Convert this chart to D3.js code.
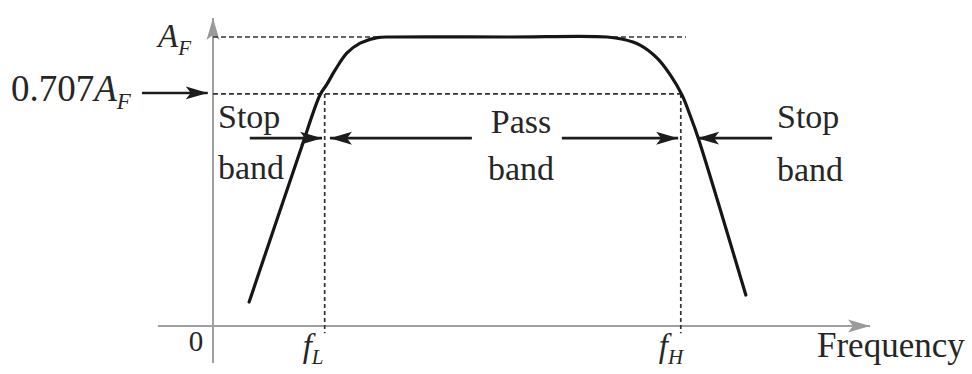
<!DOCTYPE html>
<html lang="en">
<head>
    <title>Band-pass response</title>
    <script src='https://d3js.org/d3.v7.min.js'></script>
    <style>
        body { margin: 0; background: #fff; }
        text { font-family: "Liberation Serif", "Times New Roman", serif; fill: #262626; }
    </style>
</head>
<body>
    <script>
        // Set Dimensions
        const xSize = 972;  const ySize = 374;

        // Curve (relative frequency, gain / A_F)
        const freq = [5.5, 13.2, 16.3, 17.3, 18.6, 20.4, 22.4, 25.0, 27.5, 45.0, 60.0, 62.4, 65.0, 67.6, 69.6, 71.4, 72.6, 73.8, 81.1];
        const gain = [0.083, 0.600, 0.800, 0.835, 0.886, 0.945, 0.979, 0.998, 1.0, 1.0, 1.0, 0.992, 0.972, 0.927, 0.869, 0.799, 0.730, 0.654, 0.107];

        // Reference levels: A_F and the (schematically drawn) 0.707 A_F level
        const levelValues = [1.0, 0.803];
        const levelEnds   = [72.0, 71.7];
        // Cut-off frequencies fL and fH
        const cutoffs = [17.0, 71.2];
        const cutoffNames = ["L", "H"];
        // Band arrows (from, to) in frequency units, all at one gain level
        const arrowFrom = [5.6, 39.4, 53.1, 85.1];
        const arrowTo   = [16.6, 17.8, 70.8, 73.7];
        const arrowGain = 0.65;

        const data = freq.map((f, i) => ({ x: f, y: gain[i] }));

        const svg = d3.select("body")
                    .append("svg")
                    .attr("width", xSize)
                    .attr("height", ySize);

        // scales: origin at (213, 326)
        const x = d3.scaleLinear().domain([0, 100]).range([213, 870]);
        const y = d3.scaleLinear().domain([0, 1]).range([326, 37]);

        const defs = svg.append("defs");
        function marker(id, color) {
            defs.append("marker")
                .attr("id", id)
                .attr("markerUnits", "userSpaceOnUse")
                .attr("viewBox", "-22 -8 24 16")
                .attr("refX", 0).attr("refY", 0)
                .attr("markerWidth", 24).attr("markerHeight", 16)
                .attr("orient", "auto")
                .append("path")
                .attr("d", "M0,0 L-22,-6.5 L-17,0 L-22,6.5 Z")
                .attr("fill", color);
        }
        marker("head", "#1c1c1c");
        marker("axisHead", "#9a9a9a");

        // axes
        svg.append("line")
            .attr("x1", x(-8.4)).attr("x2", x(100))
            .attr("y1", y(0)).attr("y2", y(0))
            .attr("stroke", "#a0a0a0").attr("stroke-width", 2)
            .attr("marker-end", "url(#axisHead)");
        svg.append("line")
            .attr("x1", x(0)).attr("x2", x(0))
            .attr("y1", y(-0.128)).attr("y2", y(1.066))
            .attr("stroke", "#a0a0a0").attr("stroke-width", 2)
            .attr("marker-end", "url(#axisHead)");

        // dashed reference lines
        svg.selectAll(".level")
            .data(levelValues)
            .enter()
            .append("line")
            .attr("x1", x(0))
            .attr("x2", (d, i) => x(levelEnds[i]))
            .attr("y1", d => y(d)).attr("y2", d => y(d))
            .attr("stroke", "#333").attr("stroke-width", 1.7)
            .attr("stroke-dasharray", "5,3");

        svg.selectAll(".cutoff")
            .data(cutoffs)
            .enter()
            .append("line")
            .attr("x1", d => x(d)).attr("x2", d => x(d))
            .attr("y1", y(levelValues[1])).attr("y2", y(-0.025))
            .attr("stroke", "#333").attr("stroke-width", 1.7)
            .attr("stroke-dasharray", "4,3");

        // response curve
        svg.append("path")
            .datum(data)
            .attr("fill", "none")
            .attr("stroke", "#161616")
            .attr("stroke-width", 3.2)
            .attr("stroke-linecap", "round")
            .attr("d", d3.line()
                .curve(d3.curveCatmullRom.alpha(0.5))
                .x(d => x(d.x))
                .y(d => y(d.y)));

        // band arrows
        svg.selectAll(".band")
            .data(arrowFrom)
            .enter()
            .append("line")
            .attr("x1", d => x(d))
            .attr("x2", (d, i) => x(arrowTo[i]))
            .attr("y1", y(arrowGain)).attr("y2", y(arrowGain))
            .attr("stroke", "#1c1c1c").attr("stroke-width", 2.6)
            .attr("marker-end", "url(#head)");

        // 0.707 A_F pointer
        svg.append("line")
            .attr("x1", 142).attr("x2", x(-0.8))
            .attr("y1", y(levelValues[1]) - 1).attr("y2", y(levelValues[1]) - 1)
            .attr("stroke", "#1c1c1c").attr("stroke-width", 2.6)
            .attr("marker-end", "url(#head)");

        // labels
        const af = svg.append("text").attr("x", 158).attr("y", 47).style("font-size", "33px");
        af.append("tspan").attr("font-style", "italic").text("A");
        af.append("tspan").attr("font-style", "italic").attr("dy", 8).style("font-size", "21px").text("F");

        const af7 = svg.append("text").attr("x", 11).attr("y", 101).style("font-size", "37px");
        af7.append("tspan").text("0.707");
        af7.append("tspan").attr("font-style", "italic").text("A");
        af7.append("tspan").attr("font-style", "italic").attr("dy", 8).style("font-size", "23px").text("F");

        svg.append("text").attr("x", 196).attr("y", 351)
            .attr("text-anchor", "middle").style("font-size", "29px").text("0");

        cutoffs.forEach((c, i) => {
            const t = svg.append("text").attr("x", x(c) - 22).attr("y", 357).style("font-size", "33px");
            t.append("tspan").attr("font-style", "italic").text("f");
            t.append("tspan").attr("font-style", "italic").attr("dy", 7).style("font-size", "21px").text(cutoffNames[i]);
        });

        svg.append("text").attr("x", 817).attr("y", 357).style("font-size", "35px").text("Frequency");

        const words = [
            { t: "Stop", x: 218, y: 128, a: "start" },
            { t: "band", x: 218, y: 179, a: "start" },
            { t: "Pass", x: 521, y: 133, a: "middle" },
            { t: "band", x: 521, y: 180, a: "middle" },
            { t: "Stop", x: 777, y: 128, a: "start" },
            { t: "band", x: 777, y: 181, a: "start" }
        ];
        svg.selectAll(".word")
            .data(words)
            .enter()
            .append("text")
            .attr("x", d => d.x).attr("y", d => d.y)
            .attr("text-anchor", d => d.a)
            .style("font-size", "34px")
            .text(d => d.t);
    </script>
</body>
</html>
